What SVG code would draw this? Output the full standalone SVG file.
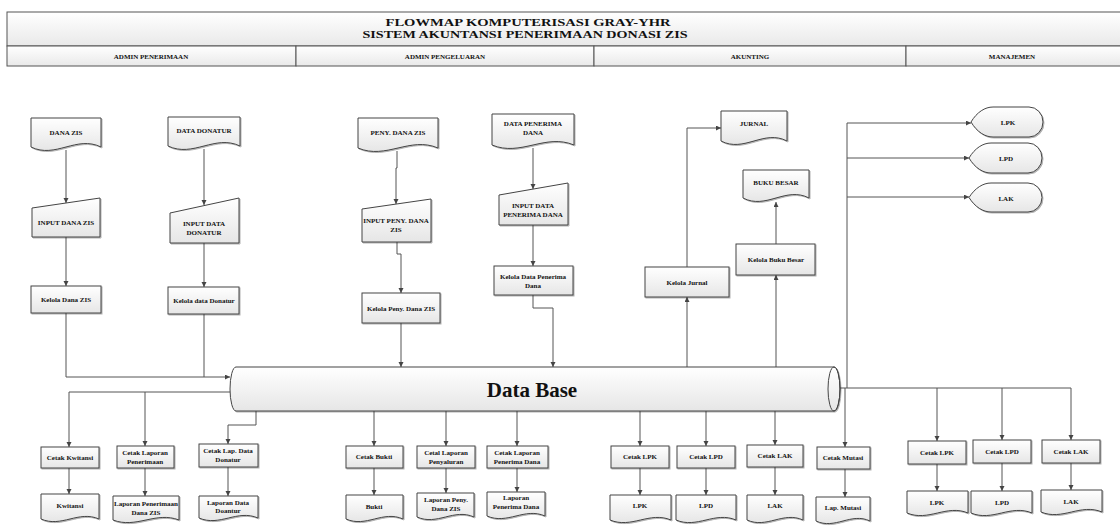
<svg xmlns="http://www.w3.org/2000/svg" width="1120" height="527" viewBox="0 0 1120 527">
<style>
.n{fill:url(#g);stroke:#444;stroke-width:1;filter:url(#sh)}
.h{fill:url(#gh);stroke:#555;stroke-width:1}
.t{font-family:"Liberation Serif","Times New Roman",serif;font-weight:bold;font-size:7px;fill:#111;text-anchor:middle}
.tt{font-family:"Liberation Serif","Times New Roman",serif;font-weight:bold;font-size:11px;fill:#111;text-anchor:middle}
.db{font-family:"Liberation Serif","Times New Roman",serif;font-weight:bold;font-size:21px;fill:#111;text-anchor:middle}
.c{fill:none;stroke:#555;stroke-width:1}
.a{marker-end:url(#ar)}
</style>
<defs>
<linearGradient id="g" x1="0" y1="0" x2="0" y2="1"><stop offset="0" stop-color="#ffffff"/><stop offset="1" stop-color="#e6e6e6"/></linearGradient>
<linearGradient id="gh" x1="0" y1="0" x2="0" y2="1"><stop offset="0" stop-color="#ffffff"/><stop offset="1" stop-color="#e9e9e9"/></linearGradient>
<filter id="sh" x="-10%" y="-10%" width="130%" height="140%"><feDropShadow dx="1" dy="1" stdDeviation="0.6" flood-color="#000" flood-opacity="0.3"/></filter>
<marker id="ar" markerUnits="userSpaceOnUse" markerWidth="6" markerHeight="6" refX="5" refY="2.5" orient="auto"><path d="M0,0 L5,2.5 L0,5 z" fill="#444"/></marker>
</defs>
<rect width="1120" height="527" fill="#fff"/>

<g id="header">
<rect class="h" x="7" y="12" width="1120" height="34"/>
<text class="tt" x="528" y="26" textLength="285" lengthAdjust="spacingAndGlyphs">FLOWMAP KOMPUTERISASI GRAY-YHR</text>
<text class="tt" x="525" y="37.5" textLength="325" lengthAdjust="spacingAndGlyphs">SISTEM AKUNTANSI PENERIMAAN DONASI ZIS</text>
</g>
<g id="lane-admin-penerimaan"><rect class="h" x="7" y="46" width="289" height="20"/><text class="t" x="151" y="58.5">ADMIN PENERIMAAN</text></g>
<g id="lane-admin-pengeluaran"><rect class="h" x="296" y="46" width="298" height="20"/><text class="t" x="445" y="58.5">ADMIN PENGELUARAN</text></g>
<g id="lane-akunting"><rect class="h" x="594" y="46" width="312" height="20"/><text class="t" x="750" y="58.5">AKUNTING</text></g>
<g id="lane-manajemen"><rect class="h" x="906" y="46" width="220" height="20"/><text class="t" x="1012" y="58.5">MANAJEMEN</text></g>

<g id="connectors">
<path class="c a" d="M66,150 V203"/>
<path class="c a" d="M66,237 V286"/>
<path class="c a" d="M66,313 V377 H230"/>
<path class="c" d="M204,314 V377"/>
<path class="c a" d="M204,149 V205"/>
<path class="c a" d="M204,243 V287"/>
<path class="c a" d="M397,151 V168 H396 V204"/>
<path class="c a" d="M397,242 V254 H401 V293"/>
<path class="c a" d="M401,323 V367"/>
<path class="c a" d="M533,148 V189"/>
<path class="c a" d="M533,225 V266"/>
<path class="c a" d="M533,295 V308 H553 V367"/>
<path class="c a" d="M687,367 V297"/>
<path class="c a" d="M687,267 V128 H721"/>
<path class="c a" d="M776,367 V275"/>
<path class="c a" d="M776,244 V202"/>
<path class="c" d="M840,388 H1071"/>
<path class="c a" d="M847,388 V123 H971"/>
<path class="c a" d="M847,158 H969"/>
<path class="c a" d="M847,197 H969"/>
<path class="c a" d="M845,388 V447"/>
<path class="c a" d="M937,388 V441"/>
<path class="c a" d="M1002,388 V440"/>
<path class="c a" d="M1071,388 V440"/>
<path class="c a" d="M230,392 H69 V447"/>
<path class="c a" d="M145,392 V446"/>
<path class="c a" d="M256,411 V425 H228 V444"/>
<path class="c a" d="M374,411 V446"/>
<path class="c a" d="M446,411 V446"/>
<path class="c a" d="M517,411 V446"/>
<path class="c a" d="M640,411 V446"/>
<path class="c a" d="M706,411 V446"/>
<path class="c a" d="M775,411 V445"/>
<path class="c a" d="M69,468 V494"/>
<path class="c a" d="M145,468 V496"/>
<path class="c a" d="M228,467 V496"/>
<path class="c a" d="M374,468 V495"/>
<path class="c a" d="M446,468 V493"/>
<path class="c a" d="M517,468 V492"/>
<path class="c a" d="M640,468 V495"/>
<path class="c a" d="M706,468 V495"/>
<path class="c a" d="M775,467 V495"/>
<path class="c a" d="M845,469 V497"/>
<path class="c a" d="M937,464 V491"/>
<path class="c a" d="M1002,463 V491"/>
<path class="c a" d="M1071,463 V490"/>
</g>

<g id="database">
<path class="n" d="M236,367 H834 A6,22 0 0 1 834,411 H236 A6,22 0 0 1 236,367 Z"/>
<ellipse cx="834" cy="389" rx="6" ry="22" fill="none" stroke="#444"/>
<text class="db" x="532" y="397">Data Base</text>
</g>

<g id="doc-dana-zis"><path class="n" d="M31,118 H101 V147 C76.5,135 55.5,159 31,147 Z"/><text class="t" x="66" y="134.5">DANA ZIS</text></g>
<g id="input-dana-zis"><path class="n" d="M32,208 L100,198 V237 H32 Z"/><text class="t" x="66" y="224.5">INPUT DANA ZIS</text></g>
<g id="kelola-dana-zis"><rect class="n" x="31" y="286" width="70" height="27"/><text class="t" x="66" y="302">Kelola Dana ZIS</text></g>

<g id="doc-data-donatur"><path class="n" d="M168,117 H240 V146 C214.8,134 193.2,158 168,146 Z"/><text class="t" x="204" y="133">DATA DONATUR</text></g>
<g id="input-data-donatur"><path class="n" d="M170,213 L239,198 V243 H170 Z"/><text class="t" x="204" y="226">INPUT DATA</text><text class="t" x="204" y="235">DONATUR</text></g>
<g id="kelola-data-donatur"><rect class="n" x="168" y="287" width="71" height="27"/><text class="t" x="204" y="303">Kelola data Donatur</text></g>

<g id="doc-peny-dana-zis"><path class="n" d="M358,118 H438 V148 C410,136 386,160 358,148 Z"/><text class="t" x="398" y="135">PENY. DANA ZIS</text></g>
<g id="input-peny-dana-zis"><path class="n" d="M362,209 L431,199 V242 H362 Z"/><text class="t" x="396" y="223">INPUT PENY. DANA</text><text class="t" x="396" y="232">ZIS</text></g>
<g id="kelola-peny-dana-zis"><rect class="n" x="362" y="293" width="78" height="30"/><text class="t" x="401" y="311">Kelola Peny. Dana ZIS</text></g>

<g id="doc-data-penerima-dana"><path class="n" d="M492,114 H574 V145 C545.3,133 520.7,157 492,145 Z"/><text class="t" x="533" y="126">DATA PENERIMA</text><text class="t" x="533" y="135">DANA</text></g>
<g id="input-data-penerima-dana"><path class="n" d="M499,195 L568,183 V225 H499 Z"/><text class="t" x="533" y="208">INPUT DATA</text><text class="t" x="533" y="217">PENERIMA DANA</text></g>
<g id="kelola-data-penerima-dana"><rect class="n" x="494" y="266" width="79" height="29"/><text class="t" x="533" y="279">Kelola Data Penerima</text><text class="t" x="533" y="288">Dana</text></g>

<g id="doc-jurnal"><path class="n" d="M721,111 H787 V141 C763.9,129 744.1,153 721,141 Z"/><text class="t" x="754" y="126">JURNAL</text></g>
<g id="doc-buku-besar"><path class="n" d="M743,170 H809 V198 C785.9,186 766.1,210 743,198 Z"/><text class="t" x="776" y="185">BUKU BESAR</text></g>
<g id="kelola-jurnal"><rect class="n" x="645" y="267" width="84" height="30"/><text class="t" x="687" y="284.5">Kelola Jurnal</text></g>
<g id="kelola-buku-besar"><rect class="n" x="736" y="244" width="79" height="31"/><text class="t" x="776" y="262">Kelola Buku Besar</text></g>

<g id="display-lpk"><path class="n" d="M971,122 C977,112 985,107 993,107 H1029 A14,15 0 0 1 1029,137 H993 C985,137 977,132 971,122 Z"/><text class="t" x="1008" y="125">LPK</text></g>
<g id="display-lpd"><path class="n" d="M969,158 C975,148 983,143 991,143 H1028 A14,15 0 0 1 1028,173 H991 C983,173 975,168 969,158 Z"/><text class="t" x="1006" y="161">LPD</text></g>
<g id="display-lak"><path class="n" d="M969,197.5 C975,188 983,183 991,183 H1028 A14,14.5 0 0 1 1028,212 H991 C983,212 975,207 969,197.5 Z"/><text class="t" x="1006" y="200.5">LAK</text></g>

<g id="cetak-kwitansi"><rect class="n" x="41" y="447" width="58" height="21"/><text class="t" x="70" y="460">Cetak Kwitansi</text></g>
<g id="doc-kwitansi"><path class="n" d="M41,494 H99 V519 C78.7,510 61.3,528 41,519 Z"/><text class="t" x="70" y="508">Kwitansi</text></g>
<g id="cetak-laporan-penerimaan"><rect class="n" x="117" y="446" width="57" height="22"/><text class="t" x="145" y="455">Cetak Laporan</text><text class="t" x="145" y="464">Penerimaan</text></g>
<g id="doc-laporan-penerimaan"><path class="n" d="M113,496 H179 V520 C155.9,511 136.1,529 113,520 Z"/><text class="t" x="146" y="506">Laporan Penerimaan</text><text class="t" x="146" y="515">Dana ZIS</text></g>
<g id="cetak-lap-data-donatur"><rect class="n" x="199" y="444" width="59" height="23"/><text class="t" x="228" y="453">Cetak Lap. Data</text><text class="t" x="228" y="462">Donatur</text></g>
<g id="doc-laporan-data-doantur"><path class="n" d="M199,496 H258 V518 C237.35,509 219.65,527 199,518 Z"/><text class="t" x="228" y="505">Laporan Data</text><text class="t" x="228" y="513">Doantur</text></g>

<g id="cetak-bukti"><rect class="n" x="346" y="446" width="57" height="22"/><text class="t" x="374" y="459">Cetak Bukti</text></g>
<g id="doc-bukti"><path class="n" d="M346,495 H403 V519 C383.05,510 365.95,528 346,519 Z"/><text class="t" x="374" y="509">Bukti</text></g>
<g id="cetal-laporan-penyaluran"><rect class="n" x="417" y="446" width="58" height="22"/><text class="t" x="446" y="455">Cetal Laporan</text><text class="t" x="446" y="464">Penyaluran</text></g>
<g id="doc-laporan-peny"><path class="n" d="M417,493 H474 V517 C454.05,508 436.95,526 417,517 Z"/><text class="t" x="446" y="502">Laporan Peny.</text><text class="t" x="446" y="511">Dana ZIS</text></g>
<g id="cetak-laporan-penerima-dana"><rect class="n" x="487" y="446" width="61" height="22"/><text class="t" x="517" y="455">Cetak Laporan</text><text class="t" x="517" y="464">Penerima Dana</text></g>
<g id="doc-laporan-penerima-dana"><path class="n" d="M487,492 H545 V516 C524.7,507 507.3,525 487,516 Z"/><text class="t" x="516" y="500">Laporan</text><text class="t" x="516" y="509">Penerima Dana</text></g>

<g id="cetak-lpk"><rect class="n" x="611" y="446" width="58" height="22"/><text class="t" x="640" y="459">Cetak LPK</text></g>
<g id="doc-lpk"><path class="n" d="M610,495 H671 V520 C649.65,511 631.35,529 610,520 Z"/><text class="t" x="640" y="508">LPK</text></g>
<g id="cetak-lpd"><rect class="n" x="677" y="446" width="58" height="22"/><text class="t" x="706" y="459">Cetak LPD</text></g>
<g id="doc-lpd"><path class="n" d="M676,495 H736 V520 C715,511 697,529 676,520 Z"/><text class="t" x="706" y="508">LPD</text></g>
<g id="cetak-lak"><rect class="n" x="747" y="445" width="56" height="22"/><text class="t" x="775" y="458">Cetak LAK</text></g>
<g id="doc-lak"><path class="n" d="M747,495 H803 V520 C783.4,511 766.6,529 747,520 Z"/><text class="t" x="775" y="508">LAK</text></g>
<g id="cetak-mutasi"><rect class="n" x="817" y="447" width="53" height="22"/><text class="t" x="843" y="460">Cetak Mutasi</text></g>
<g id="doc-lap-mutasi"><path class="n" d="M816,497 H870 V521 C851.1,512 834.9,530 816,521 Z"/><text class="t" x="843" y="510">Lap. Mutasi</text></g>

<g id="cetak-lpk-2"><rect class="n" x="908" y="441" width="58" height="23"/><text class="t" x="937" y="455">Cetak LPK</text></g>
<g id="doc-lpk-2"><path class="n" d="M907,491 H968 V513 C946.65,504 928.35,522 907,513 Z"/><text class="t" x="937" y="505">LPK</text></g>
<g id="cetak-lpd-2"><rect class="n" x="973" y="440" width="58" height="23"/><text class="t" x="1002" y="454">Cetak LPD</text></g>
<g id="doc-lpd-2"><path class="n" d="M971,491 H1032 V513 C1010.65,504 992.35,522 971,513 Z"/><text class="t" x="1002" y="505">LPD</text></g>
<g id="cetak-lak-2"><rect class="n" x="1042" y="440" width="58" height="23"/><text class="t" x="1071" y="454">Cetak LAK</text></g>
<g id="doc-lak-2"><path class="n" d="M1041,490 H1102 V512 C1080.65,503 1062.35,521 1041,512 Z"/><text class="t" x="1071" y="504">LAK</text></g>
</svg>
